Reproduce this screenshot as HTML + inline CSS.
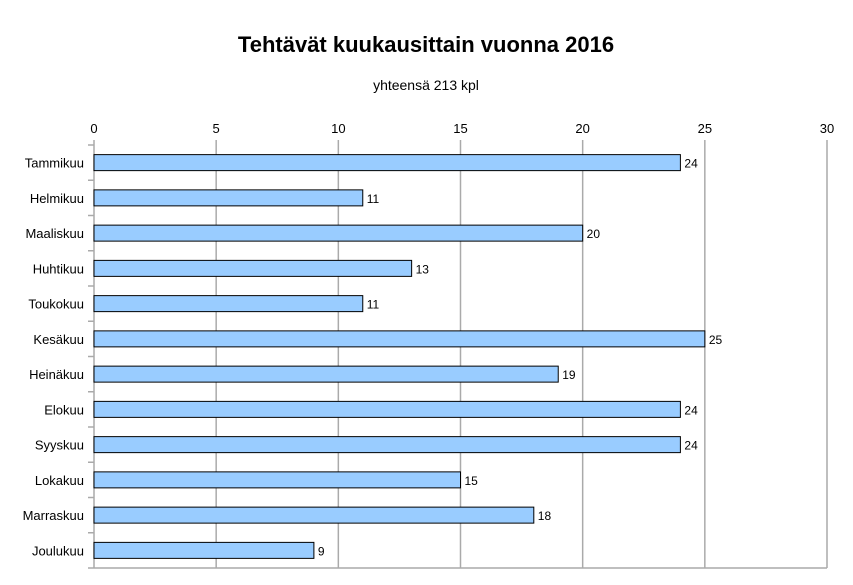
<!DOCTYPE html>
<html><head><meta charset="utf-8">
<style>
body{margin:0;background:#fff;}
svg text{font-family:"Liberation Sans",Arial,sans-serif;}
</style></head>
<body>
<svg id="chart" width="853" height="580" xmlns="http://www.w3.org/2000/svg">
<text x="426" y="52" text-anchor="middle" font-size="22" font-weight="bold">Tehtävät kuukausittain vuonna 2016</text>
<text x="426" y="90" text-anchor="middle" font-size="14">yhteensä 213 kpl</text>
<g id="grid"></g><g id="bars"></g><g id="labels"></g>
</svg>
<script>
const categories=["Tammikuu","Helmikuu","Maaliskuu","Huhtikuu","Toukokuu","Kesäkuu","Heinäkuu","Elokuu","Syyskuu","Lokakuu","Marraskuu","Joulukuu"];
const values=[24,11,20,13,11,25,19,24,24,15,18,9];
const ticks=[0,5,10,15,20,25,30];
const X0=94,X1=827,Y0=145,Y1=568,MAX=30;
const x=v=>X0+(X1-X0)*v/MAX;
const band=(Y1-Y0)/categories.length;
const yc=i=>Y0+band*(i+0.5);
const NS="http://www.w3.org/2000/svg";
function mk(tag,attrs,parent,txt){const e=document.createElementNS(NS,tag);for(const k in attrs)e.setAttribute(k,attrs[k]);if(txt!==undefined)e.textContent=txt;parent.appendChild(e);return e;}
const grid=document.getElementById('grid'),bars=document.getElementById('bars'),labels=document.getElementById('labels');
ticks.forEach(t=>{
  const l=mk('line',{x1:x(t),x2:x(t),y1:Y0-5,y2:Y1,stroke:'#aaa','stroke-width':1.5},grid);
  
  
  const tx=mk('text',{x:x(t),y:Y0-12,'text-anchor':'middle','font-size':13},grid,String(t));
  
  
});
const bl=mk('line',{x1:X0,x2:X1,y1:Y1,y2:Y1,stroke:'#aaa','stroke-width':1.5},grid);


for(let i=0;i<=categories.length;i++){
  const tk=mk('line',{x1:X0-6,x2:X0,y1:Y0+band*i,y2:Y0+band*i,stroke:'#aaa','stroke-width':1.5},grid);
  
  
}
categories.forEach((c,i)=>{
  const r=mk('rect',{x:X0,y:yc(i)-8,width:x(values[i])-X0,height:16,fill:'#99ccff',stroke:'#000','stroke-width':1},bars);
  
  
  const cl=mk('text',{x:84,y:yc(i)+5,'text-anchor':'end','font-size':13},labels,c);
  
  
  const vl=mk('text',{x:x(values[i])+4,y:yc(i)+5,'font-size':12},labels,String(values[i]));
  
  
});
</script>
</body></html>
